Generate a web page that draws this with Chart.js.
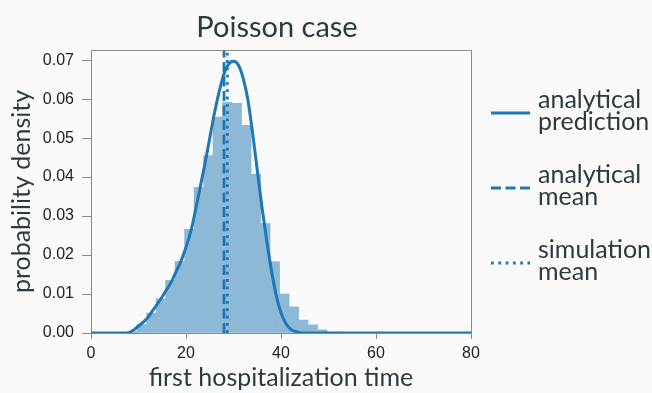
<!DOCTYPE html>
<html>
<head>
<meta charset="utf-8">
<script src="https://cdn.jsdelivr.net/npm/chart.js@4.4.1/dist/chart.umd.min.js"></script>
<style>
    html, body { margin: 0; padding: 0; background: #fafafa; }
    canvas { display: block; }
</style>
</head>
<body>
<canvas id="poissonChart" width="652" height="393"></canvas>
<script>
// Simulated first hospitalization times, normalised histogram (bin width 2)
const binCenters = [8.7, 10.7, 12.7, 14.7, 16.7, 18.7, 20.7, 22.7, 24.7, 26.7, 28.7,
    30.7, 32.7, 34.7, 36.7, 38.7, 40.7, 42.7, 44.7, 46.7, 48.7, 50.7];
const binDensity = [0.0004, 0.0022, 0.0051, 0.0088, 0.0135, 0.0184, 0.0266, 0.0374, 0.0455, 0.0554, 0.0592,
    0.0589, 0.0533, 0.0408, 0.0281, 0.0183, 0.0100, 0.0067, 0.0033, 0.0021, 0.0008, 0.0002];

// Analytical density of the first hospitalization time
const curveX = [0, 4, 7, 8, 9, 10, 11, 12, 13, 14, 15, 16, 17, 18, 19, 20, 21, 22, 23, 24, 25,
    26, 27, 28, 29, 30, 31, 32, 33, 34, 35, 36, 37, 38, 39, 40, 41, 42, 43, 44, 45, 50, 60, 70, 80];
const curveY = [0, 0, 0, 0.0001, 0.0008, 0.0018, 0.0028, 0.0040, 0.0058, 0.0075, 0.0093, 0.0113, 0.0133, 0.0160, 0.0186, 0.0220, 0.0260, 0.0315, 0.0375, 0.0435, 0.0500,
    0.0565, 0.0620, 0.0665, 0.0690, 0.0697, 0.0688, 0.0655, 0.0600, 0.0515, 0.0418, 0.0322, 0.0236, 0.0160, 0.0096, 0.0052, 0.0025, 0.0010, 0.0004, 0.0001, 0, 0, 0, 0, 0];

const analyticalMean = 28.0;
const simulationMean = 28.7;

const xTickStep = 20;
const yTickStep = 0.01;
const yTop = 0.0726;

const legendLabels = [
    ['analytical', 'prediction'],
    ['analytical', 'mean'],
    ['simulation', 'mean']
];

const blue = '#1f77b4';
// half-transparent blue flattened onto the page colour, so adjacent bars leave no seams
const barFill = 'rgb(141, 185, 215)';
const textColor = '#2d3a3f';
const spineColor = '#8a8a8a';

// Frame, title and the two-line legend on the right
const decorPlugin = {
    id: 'decor',
    afterDatasetsDraw(chart) {
        const ctx = chart.ctx;
        const a = chart.chartArea;
        ctx.save();
        ctx.strokeStyle = spineColor;
        ctx.lineWidth = 1;
        ctx.beginPath();
        ctx.moveTo(a.left, a.top + 0.5);
        ctx.lineTo(a.right + 0.5, a.top + 0.5);
        ctx.lineTo(a.right + 0.5, a.bottom);
        ctx.stroke();
        ctx.restore();
    },
    afterDraw(chart) {
        const ctx = chart.ctx;
        const a = chart.chartArea;
        ctx.save();
        ctx.fillStyle = textColor;
        ctx.font = '29px Lato';
        ctx.textAlign = 'center';
        ctx.textBaseline = 'alphabetic';
        ctx.fillText('Poisson case', (a.left + a.right) / 2 - 4, 37);

        ctx.font = '25px Lato';
        ctx.textAlign = 'left';
        const rowY = [113, 188, 263];
        legendLabels.forEach((lines, i) => {
            const ds = chart.data.datasets[i + 1];
            const y = rowY[i];
            ctx.strokeStyle = ds.borderColor;
            ctx.lineWidth = ds.borderWidth;
            ctx.setLineDash(ds.borderDash || []);
            ctx.beginPath();
            ctx.moveTo(491, y);
            ctx.lineTo(530, y);
            ctx.stroke();
            ctx.setLineDash([]);
            ctx.fillText(lines[0], 538, y - 5);
            ctx.fillText(lines[1], 538, y + 17);
        });
        ctx.restore();
    }
};

const ctx = document.getElementById('poissonChart').getContext('2d');
new Chart(ctx, {
    type: 'bar',
    data: {
        datasets: [{
            type: 'bar',
            label: 'simulation',
            data: binCenters.map((x, i) => ({ x: x, y: binDensity[i] })),
            backgroundColor: barFill,
            borderWidth: 0,
            barPercentage: 1,
            categoryPercentage: 1,
            order: 4
        }, {
            type: 'line',
            label: 'analytical prediction',
            data: curveX.map((x, i) => ({ x: x, y: curveY[i] })),
            borderColor: blue,
            borderWidth: 3,
            pointRadius: 0,
            cubicInterpolationMode: 'monotone',
            fill: false,
            order: 3
        }, {
            type: 'line',
            label: 'analytical mean',
            data: [{ x: analyticalMean, y: 0 }, { x: analyticalMean, y: yTop }],
            borderColor: blue,
            borderWidth: 2.8,
            borderDash: [10, 4.5],
            pointRadius: 0,
            order: 2
        }, {
            type: 'line',
            label: 'simulation mean',
            data: [{ x: simulationMean, y: 0 }, { x: simulationMean, y: yTop }],
            borderColor: blue,
            borderWidth: 2.8,
            borderDash: [2.8, 4.5],
            pointRadius: 0,
            order: 1
        }]
    },
    options: {
        responsive: false,
        animation: false,
        devicePixelRatio: 1,
        layout: { padding: { left: 0, right: 181, top: 50, bottom: 0 } },
        plugins: {
            legend: { display: false },
            tooltip: { enabled: false }
        },
        scales: {
            x: {
                type: 'linear',
                min: 0,
                max: 80,
                offset: false,
                afterFit: s => { s.height = 60; },
                ticks: {
                    stepSize: xTickStep,
                    color: '#222',
                    font: { family: 'Liberation Sans', size: 16 },
                    padding: 5,
                    maxRotation: 0,
                    autoSkip: false
                },
                grid: { offset: false, drawOnChartArea: false, drawTicks: true, tickLength: 6, color: spineColor },
                border: { display: true, color: spineColor, width: 1 },
                title: {
                    display: true,
                    text: 'first hospitalization time',
                    color: textColor,
                    font: { family: 'Lato', size: 25 },
                    padding: { top: 0, bottom: 0 }
                }
            },
            y: {
                min: 0,
                max: yTop,
                afterFit: s => { s.width = 91; },
                ticks: {
                    stepSize: yTickStep,
                    includeBounds: false,
                    color: '#222',
                    font: { family: 'Liberation Sans', size: 16 },
                    padding: 8,
                    callback: v => v.toFixed(2)
                },
                grid: { drawOnChartArea: false, drawTicks: true, tickLength: 9, color: spineColor },
                border: { display: true, color: spineColor, width: 1 },
                title: {
                    display: true,
                    text: 'probability density',
                    color: textColor,
                    font: { family: 'Lato', size: 25 },
                    padding: { top: 7, bottom: 0 }
                }
            }
        }
    },
    plugins: [decorPlugin]
});
</script>
</body>
</html>
